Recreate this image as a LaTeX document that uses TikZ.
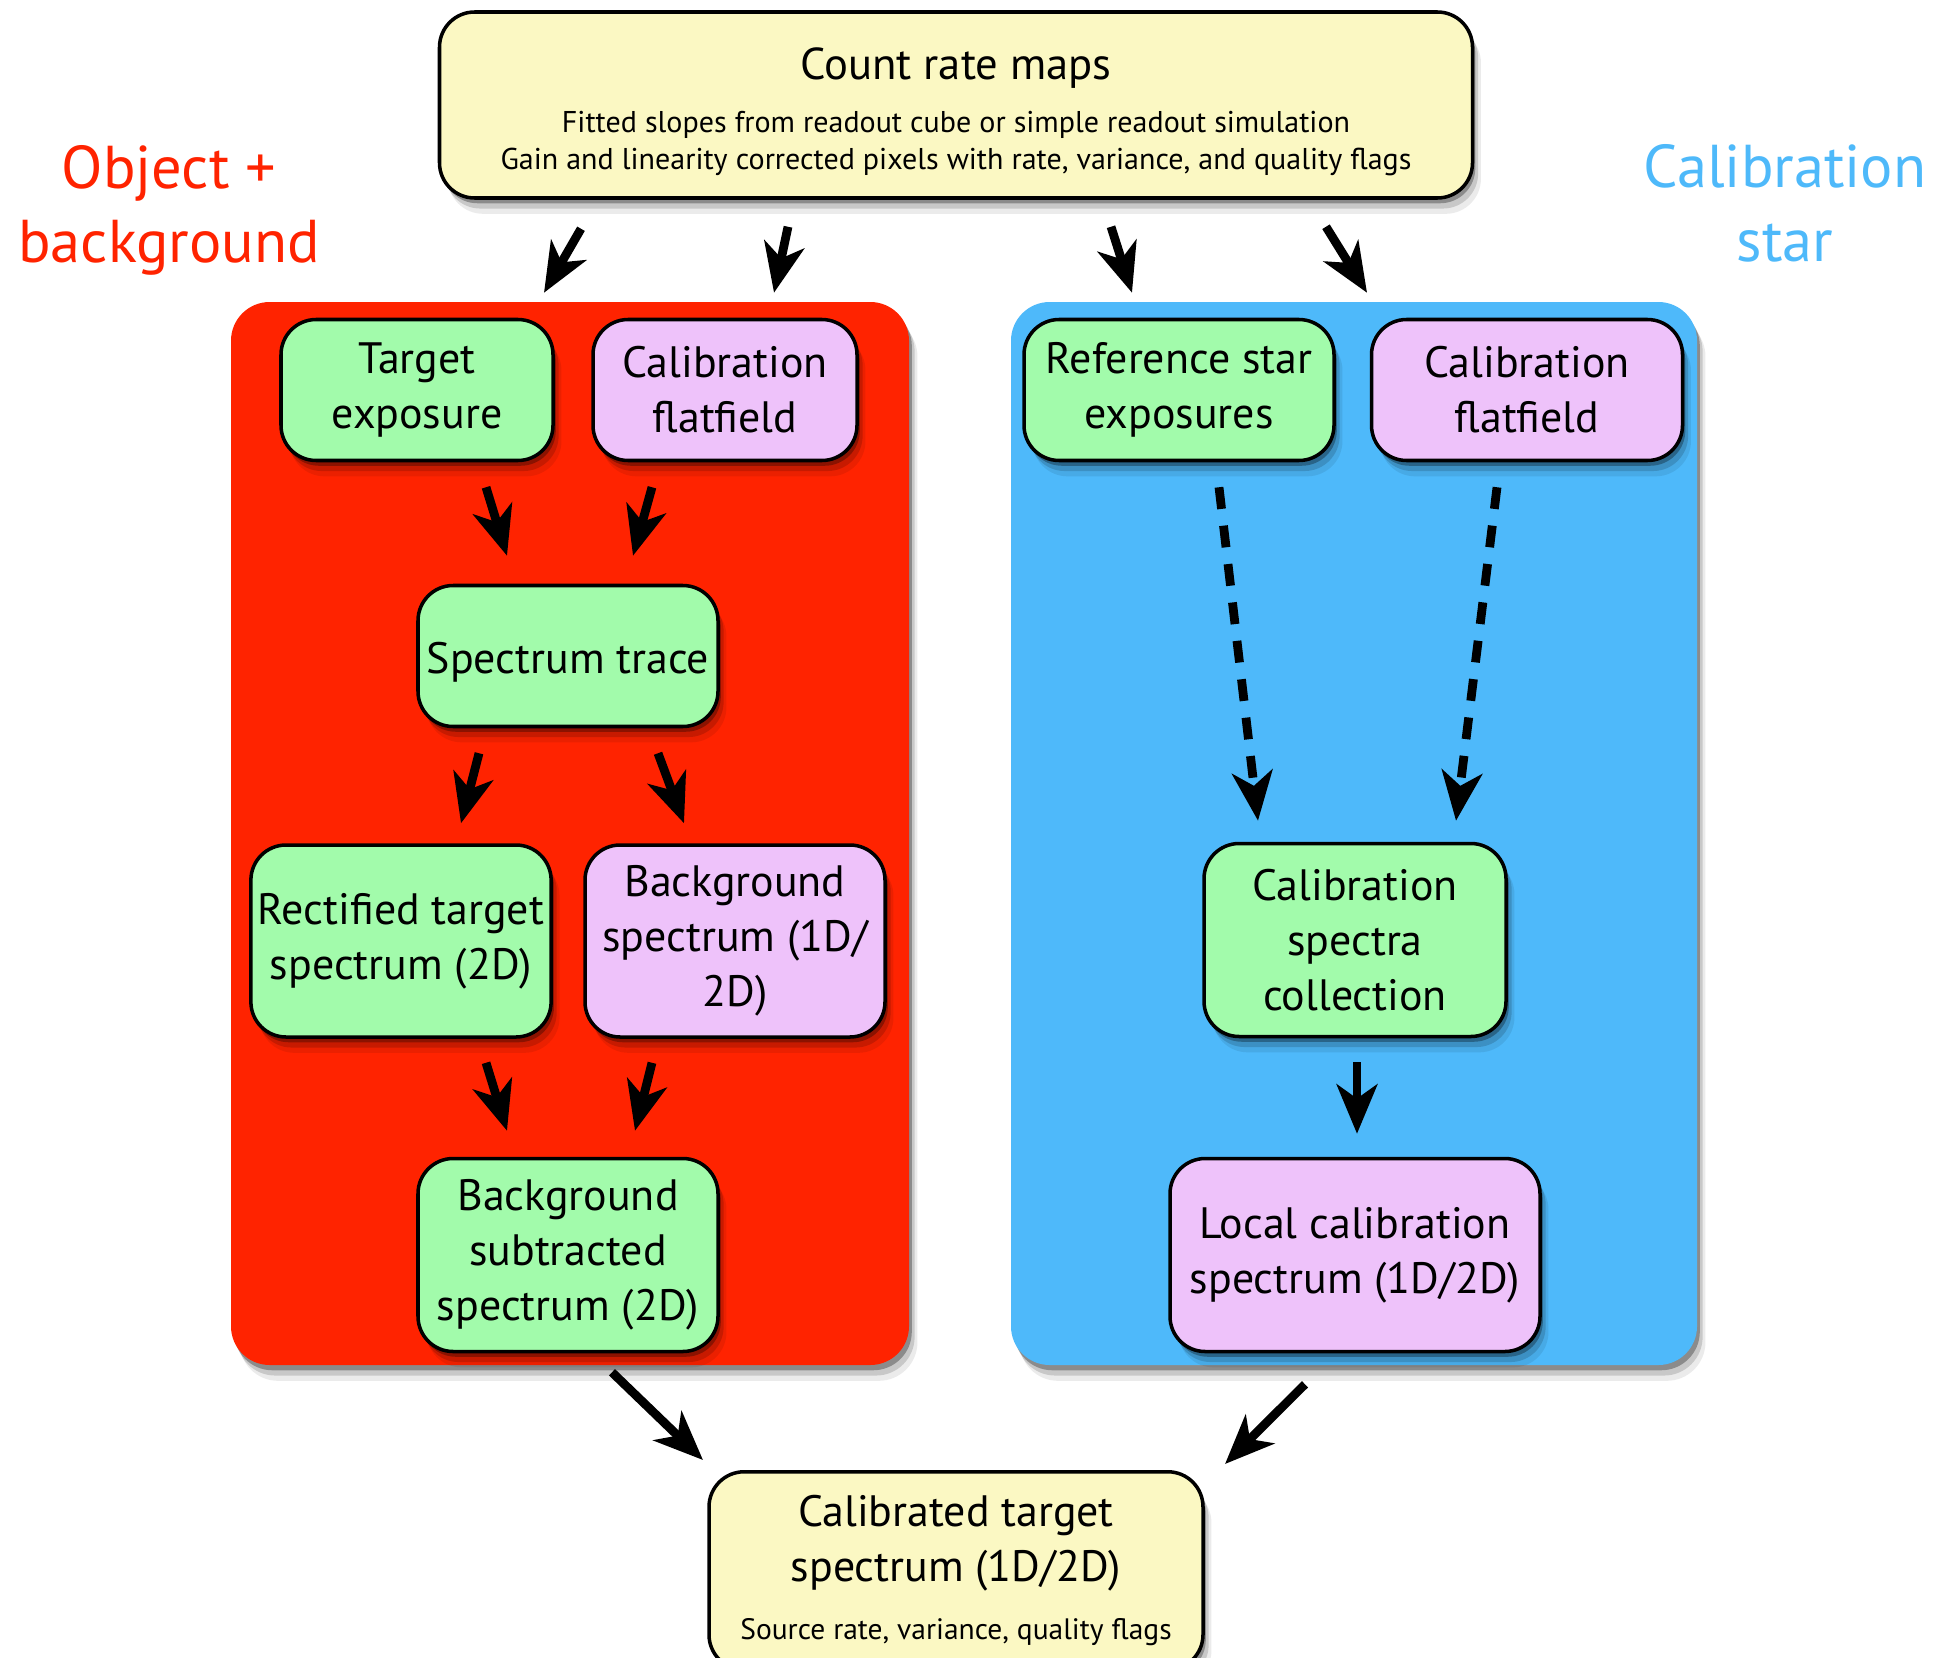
\documentclass[tikz,border=0pt]{standalone}
\usepackage{fontspec}
\setmainfont{PT Sans}
\usetikzlibrary{arrows.meta, shadows}
\definecolor{mapyellow}{HTML}{FBF8C3}
\definecolor{stepgreen}{HTML}{A2FBAB}
\definecolor{calviolet}{HTML}{EEC2FA}
\definecolor{objred}{HTML}{FF2300}
\definecolor{calblue}{HTML}{4EB9FA}

\begin{document}
\begin{tikzpicture}[
    every node/.style={font=\fontsize{12.5}{15.6}\selectfont},
    soft/.style={
        general shadow={shadow xshift=0.8pt, shadow yshift=-1.5pt, opacity=.30, fill=black},
        general shadow={shadow xshift=1.6pt, shadow yshift=-3pt, opacity=.15, fill=black},
        general shadow={shadow xshift=2.4pt, shadow yshift=-4.5pt, opacity=.08, fill=black},
    },
    box/.style={
        rectangle, rounded corners=10pt, line width=1pt, draw=black,
        fill=#1, align=center, inner sep=2pt, minimum height=1.41cm, soft,
        execute at begin node={\rule{0pt}{12.5pt}},
    },
    panel/.style={rounded corners=11pt, fill=#1, soft},
    arr/.style={-{Stealth[length=14pt, width=11.5pt, inset=4pt]}, line width=2.5pt},
    darr/.style={arr, dash pattern=on 6.2pt off 4.8pt},
    lab/.style={font=\fontsize{17.2}{21}\selectfont, text=#1, align=center},
]
\useasboundingbox (0,0) rectangle (19.40,-16.57);
\clip (0,0) rectangle (19.40,-16.57);

% ---------------------------------------------------------------- panels
\fill[panel=objred] (2.31,-3.02) rectangle (9.09,-13.65);
\fill[panel=calblue] (10.11,-3.02) rectangle (16.97,-13.65);

\node[lab=objred] (objlab) at (1.69,-2.10) {Object +\\background};
\node[lab=calblue] (callab) at (17.85,-2.03) {Calibration\\star};

% ---------------------------------------------------------------- count rate maps
\node[box=mapyellow, minimum width=10.33cm, minimum height=1.86cm,
    font=\fontsize{8.55}{10.5}\selectfont] (crm) at (9.56,-1.05)
    {\rule{0pt}{13pt}{\fontsize{12.7}{15.6}\selectfont Count rate maps}\\[4.5pt]
     Fitted slopes from readout cube or simple readout simulation\\
     Gain and linearity corrected pixels with rate, variance, and quality flags};

% ---------------------------------------------------------------- object + background
\node[box=stepgreen, minimum width=2.72cm] (te) at (4.17,-3.90) {Target\\exposure};
\node[box=calviolet, minimum width=2.64cm] (cfl) at (7.25,-3.90) {Calibration\\flatfield};
\node[box=stepgreen, minimum width=3.00cm] (st) at (5.68,-6.56) {Spectrum trace};
\node[box=stepgreen, minimum width=3.00cm, minimum height=1.92cm] (rts) at (4.01,-9.41)
    {Rectified target\\spectrum (2D)};
\node[box=calviolet, minimum width=3.00cm, minimum height=1.92cm] (bgs) at (7.35,-9.41)
    {Background\\spectrum (1D/\\2D)};
\node[box=stepgreen, minimum width=3.00cm, minimum height=1.93cm] (bss) at (5.68,-12.55)
    {Background\\subtracted\\spectrum (2D)};

% ---------------------------------------------------------------- calibration star
\node[box=stepgreen, minimum width=3.10cm] (rse) at (11.79,-3.90) {Reference star\\exposures};
\node[box=calviolet, minimum width=3.11cm] (cfr) at (15.27,-3.90) {Calibration\\flatfield};
\node[box=stepgreen, minimum width=3.02cm, minimum height=1.93cm] (csc) at (13.55,-9.40)
    {Calibration\\spectra\\collection};
\node[box=calviolet, minimum width=3.70cm, minimum height=1.93cm] (lcs) at (13.55,-12.55)
    {Local calibration\\spectrum (1D/2D)};

% ---------------------------------------------------------------- result
\node[box=mapyellow, anchor=north, minimum width=4.94cm, minimum height=1.98cm] (ct)
    at (9.56,-14.70)
    {Calibrated target\\spectrum (1D/2D)\\[1pt]
     {\fontsize{8.4}{11}\selectfont Source rate, variance, quality flags}};

% ---------------------------------------------------------------- arrows
\draw[arr] ([shift={(-3.75,-0.29)}]crm.south) -- ([shift={(1.27,0.25)}]te.north);
\draw[arr] ([shift={(-1.68,-0.27)}]crm.south) -- ([shift={(0.49,0.25)}]cfl.north);
\draw[arr] ([shift={(1.55,-0.27)}]crm.south) -- ([shift={(-0.47,0.25)}]rse.north);
\draw[arr] ([shift={(3.70,-0.27)}]crm.south) -- ([shift={(-1.60,0.25)}]cfr.north);

\draw[arr] ([shift={(0.69,-0.25)}]te.south) -- ([shift={(-0.61,0.28)}]st.north);
\draw[arr] ([shift={(-0.73,-0.25)}]cfl.south) -- ([shift={(0.65,0.28)}]st.north);
\draw[arr] ([shift={(-0.89,-0.25)}]st.south) -- ([shift={(0.60,0.20)}]rts.north);
\draw[arr] ([shift={(0.90,-0.25)}]st.south) -- ([shift={(-0.51,0.20)}]bgs.north);
\draw[arr] ([shift={(0.85,-0.24)}]rts.south) -- ([shift={(-0.61,0.26)}]bss.north);
\draw[arr] ([shift={(-0.83,-0.24)}]bgs.south) -- ([shift={(0.67,0.26)}]bss.north);

\draw[darr] ([shift={(0.40,-0.25)}]rse.south) -- ([shift={(-0.97,0.21)}]csc.north);
\draw[darr] ([shift={(-0.30,-0.25)}]cfr.south) -- ([shift={(1.01,0.21)}]csc.north);
\draw[arr] ([shift={(0.02,-0.24)}]csc.south) -- ([shift={(0.02,0.23)}]lcs.north);

\draw[arr] ([shift={(0.44,-0.19)}]bss.south) -- ([shift={(-2.53,0.10)}]ct.north);
\draw[arr] ([shift={(-0.50,-0.31)}]lcs.south) -- ([shift={(2.69,0.06)}]ct.north);

\end{tikzpicture}
\end{document}
